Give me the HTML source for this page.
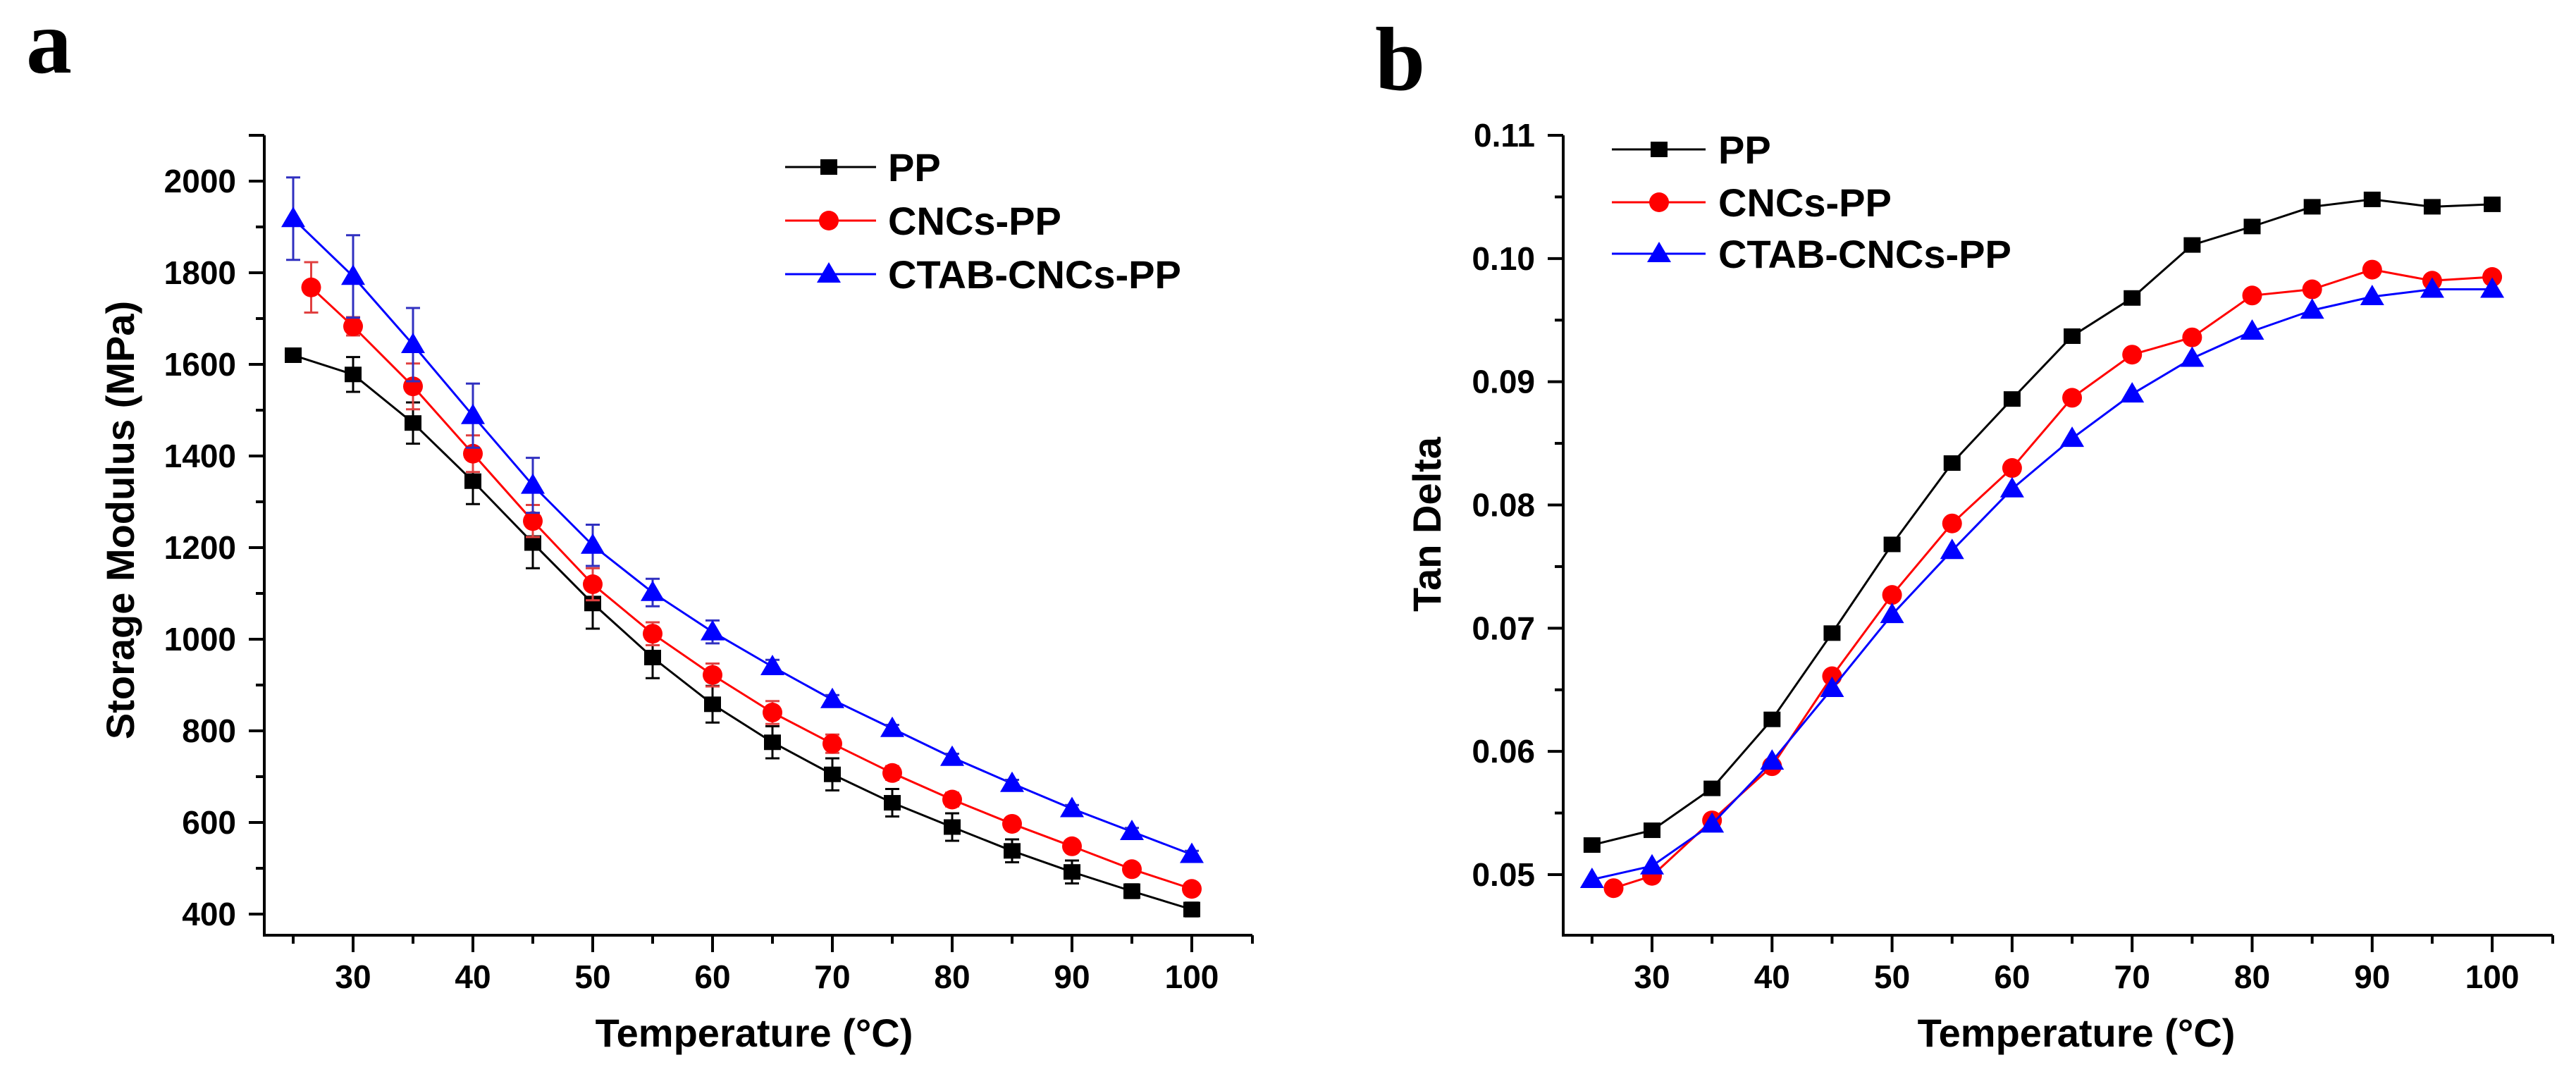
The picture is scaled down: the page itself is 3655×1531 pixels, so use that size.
<!DOCTYPE html>
<html><head><meta charset="utf-8"><style>
html,body{margin:0;padding:0;background:#fff;}
svg{display:block;}
text{font-family:"Liberation Sans",Arial,sans-serif;font-weight:bold;fill:#000;}
</style></head><body>
<svg id="fig" width="3655" height="1531" viewBox="0 0 3655 1531" xmlns="http://www.w3.org/2000/svg">
<text x="37" y="103" style="font-family:'Liberation Serif',serif;font-size:130px">a</text>
<text x="1951" y="127" style="font-family:'Liberation Serif',serif;font-size:128px">b</text>
<g id="pa"></g>
<g id="pb"></g>
</svg>
<script>
// ---- Panel a data ----
const aXTicks = [30,40,50,60,70,80,90,100];
const aYTicks = [400,600,800,1000,1200,1400,1600,1800,2000];
const aPPx = [25,30,35,40,45,50,55,60,65,70,75,80,85,90,95,100];
const aPP = [1620,1578,1472,1345,1210,1078,960,858,775,705,643,590,538,492,450,410];
const aPPerr = [0,38,45,50,55,55,45,40,35,35,30,30,25,25,15,15];
const aCNCx = [26.5,30,35,40,45,50,55,60,65,70,75,80,85,90,95,100];
const aCNC = [1768,1683,1552,1405,1258,1120,1012,922,840,772,708,650,597,548,498,455];
const aCNCerr = [55,20,50,40,35,35,25,25,25,20,15,15,10,10,10,10];
const aCTABx = [25,30,35,40,45,50,55,60,65,70,75,80,85,90,95,100];
const aCTAB = [1918,1792,1643,1488,1336,1205,1102,1016,940,868,805,742,685,630,580,530];
const aCTABerr = [90,90,80,70,60,45,30,25,15,10,8,8,8,8,8,8];
// ---- Panel b data ----
const bXTicks = [30,40,50,60,70,80,90,100];
const bYTicks = [0.05,0.06,0.07,0.08,0.09,0.10,0.11];
const bYLabels = ["0.05","0.06","0.07","0.08","0.09","0.10","0.11"];
const bPPx = [25,30,35,40,45,50,55,60,65,70,75,80,85,90,95,100];
const bPP = [0.0524,0.0536,0.0570,0.0626,0.0696,0.0768,0.0834,0.0886,0.0937,0.0968,0.1011,0.1026,0.1042,0.1048,0.1042,0.1044];
const bCNCx = [26.8,30,35,40,45,50,55,60,65,70,75,80,85,90,95,100];
const bCNC = [0.0489,0.0499,0.0544,0.0588,0.0661,0.0727,0.0785,0.0830,0.0887,0.0922,0.0936,0.0970,0.0975,0.0991,0.0982,0.0985];
const bCTABx = [25,30,35,40,45,50,55,60,65,70,75,80,85,90,95,100];
const bCTAB = [0.0496,0.0507,0.0541,0.0592,0.0651,0.0711,0.0763,0.0813,0.0854,0.0890,0.0919,0.0941,0.0958,0.0969,0.0975,0.0975];

const NS="http://www.w3.org/2000/svg";
function mk(parent,tag,attrs,txt){const e=document.createElementNS(NS,tag);for(const k in attrs)e.setAttribute(k,attrs[k]);if(txt!==undefined)e.textContent=txt;parent.appendChild(e);return e;}

function marker(g,shape,cx,cy,color){
  let m;
  if(shape==='sq'){m=mk(g,'rect',{x:cx-12,y:cy-11,width:24,height:22,fill:color});}
  else if(shape==='ci'){m=mk(g,'circle',{cx:cx,cy:cy,r:14,fill:color});}
  else {m=mk(g,'polygon',{points:`${cx},${cy-17} ${cx-17},${cy+12} ${cx+17},${cy+12}`,fill:color});}
  return m;
}

function drawPanel(g,cfg){
  const X=v=>cfg.x0+(v-cfg.xv0)*cfg.xs;
  const Y=v=>cfg.y0-(v-cfg.yv0)*cfg.ys;
  cfg.series.forEach(s=>{
    const sg=mk(g,'g',{});
    
    
    const pts=s.xs.map((x,i)=>X(x)+','+Y(s.ys[i])).join(' ');
    const pl=mk(sg,'polyline',{points:pts,fill:'none',stroke:s.color,'stroke-width':3});
    
    
    if(s.err){s.xs.forEach((x,i)=>{const e=s.err[i];if(!e)return;const cx=X(x),t=Y(s.ys[i]+e),b=Y(s.ys[i]-e);
      const eb=mk(sg,'path',{d:`M${cx},${t}V${b}M${cx-10},${t}H${cx+10}M${cx-10},${b}H${cx+10}`,stroke:s.ecolor,'stroke-width':3,fill:'none'});
      
      });}
    s.xs.forEach((x,i)=>{const m=marker(sg,s.shape,X(x),Y(s.ys[i]),s.color);
      
      });
  });
  const ax=mk(g,'path',{d:`M${cfg.left},${cfg.top}V${cfg.bottom}H${cfg.right}`,stroke:'#000','stroke-width':4,fill:'none'});
  
  
  mk(g,'path',{d:`M${cfg.left},${cfg.top}H${cfg.left-22}`,stroke:'#000','stroke-width':4});
  cfg.yt.forEach((v,i)=>{const y=Y(v);
    mk(g,'path',{d:`M${cfg.left},${y}H${cfg.left-22}`,stroke:'#000','stroke-width':4});
    const t=mk(g,'text',{x:cfg.left-40,y:y+16,'text-anchor':'end','font-size':46},cfg.yl[i]);
    
    
    const ym=Y(v+cfg.ystep/2);
    if(ym>cfg.top+2) mk(g,'path',{d:`M${cfg.left},${ym}H${cfg.left-12}`,stroke:'#000','stroke-width':4});
  });
  cfg.xt.forEach(v=>{const x=X(v);
    mk(g,'path',{d:`M${x},${cfg.bottom}V${cfg.bottom+24}`,stroke:'#000','stroke-width':4});
    mk(g,'path',{d:`M${X(v-5)},${cfg.bottom}V${cfg.bottom+12}`,stroke:'#000','stroke-width':4});
    const t=mk(g,'text',{x:x,y:cfg.bottom+75,'text-anchor':'middle','font-size':46},String(v));
    
    
  });
  mk(g,'path',{d:`M${cfg.right},${cfg.bottom}V${cfg.bottom+12}`,stroke:'#000','stroke-width':4});
  const xt=mk(g,'text',{x:cfg.xtx,y:1485,'text-anchor':'middle','font-size':56},'Temperature (°C)');
  
  
  const yt=mk(g,'text',{x:0,y:0,'text-anchor':'middle','font-size':56,transform:`translate(${cfg.ytx+20},${cfg.yty}) rotate(-90)`},cfg.ytitle);
  
  
  cfg.series.forEach((s,i)=>{const y=cfg.leg.rows[i];
    const lg=mk(g,'g',{});
    
    
    mk(lg,'line',{x1:cfg.leg.l0,x2:cfg.leg.l1,y1:y,y2:y,stroke:s.color,'stroke-width':3});
    marker(lg,s.shape,cfg.leg.m,y,s.color);
    mk(lg,'text',{x:cfg.leg.t,y:y+20,'font-size':56},s.label);
  });
}

drawPanel(document.getElementById('pa'),{
  x0:501,xv0:30,xs:17,y0:1297,yv0:400,ys:1040/1600,
  left:375,right:1777,top:192,bottom:1327,
  xt:aXTicks,yt:aYTicks,yl:aYTicks.map(String),ystep:200,
  xtx:1070,ytx:170,yty:738,ytitle:'Storage Modulus (MPa)',
  leg:{l0:1114,l1:1243,m:1176,t:1260,rows:[237,313,389]},
  series:[
    {name:'pp',label:'PP',xs:aPPx,ys:aPP,err:aPPerr,color:'#000',ecolor:'#000',shape:'sq'},
    {name:'cncs-pp',label:'CNCs-PP',xs:aCNCx,ys:aCNC,err:aCNCerr,color:'#ff0000',ecolor:'#e04040',shape:'ci'},
    {name:'ctab-cncs-pp',label:'CTAB-CNCs-PP',xs:aCTABx,ys:aCTAB,err:aCTABerr,color:'#0000ff',ecolor:'#3030c0',shape:'tr'}
  ]});
drawPanel(document.getElementById('pb'),{
  x0:2344,xv0:30,xs:17.03,y0:1241,yv0:0.05,ys:1049/0.06,
  left:2218,right:3622,top:192,bottom:1327,
  xt:bXTicks,yt:bYTicks,yl:bYLabels,ystep:0.01,
  xtx:2946,ytx:2024,yty:744,ytitle:'Tan Delta',
  leg:{l0:2287,l1:2420,m:2354,t:2438,rows:[212,287,360]},
  series:[
    {name:'pp',label:'PP',xs:bPPx,ys:bPP,color:'#000',shape:'sq'},
    {name:'cncs-pp',label:'CNCs-PP',xs:bCNCx,ys:bCNC,color:'#ff0000',shape:'ci'},
    {name:'ctab-cncs-pp',label:'CTAB-CNCs-PP',xs:bCTABx,ys:bCTAB,color:'#0000ff',shape:'tr'}
  ]});
</script>
</body></html>
